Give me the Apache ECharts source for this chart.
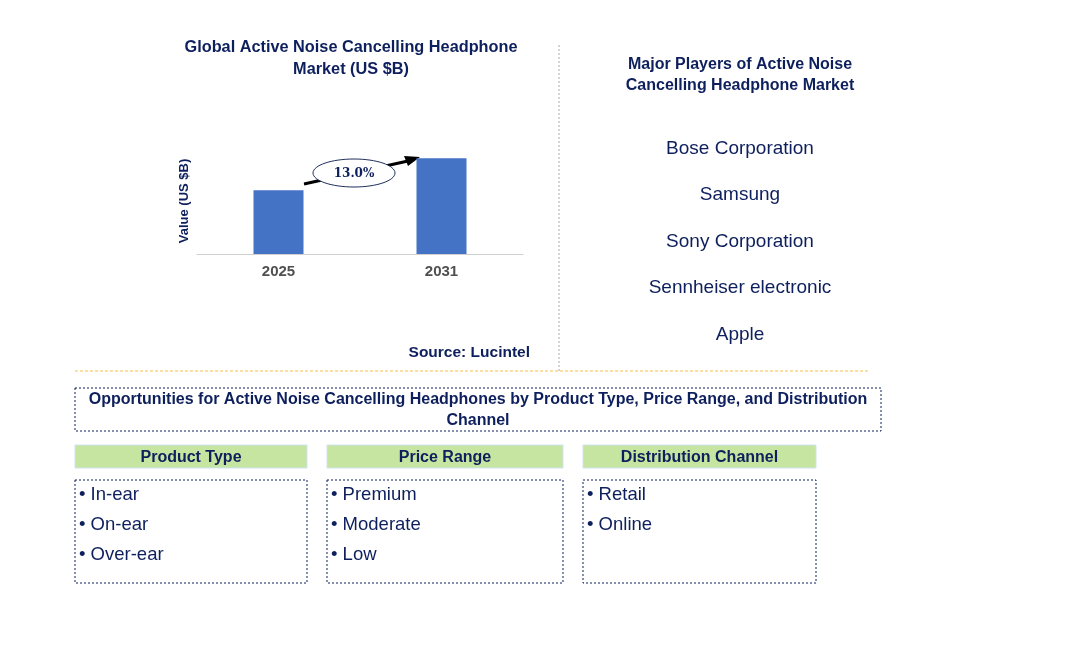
<!DOCTYPE html><html><head><meta charset="utf-8"><script src="https://cdn.jsdelivr.net/npm/echarts@6/dist/echarts.min.js"></script>
<style>body{margin:0}#c{width:1073px;height:664px}</style></head><body><div id="c"></div><script>
const categories=['2025','2031'];
const values=[1.0,1.5];
const cagr='13.0%';
const players=['Bose Corporation','Samsung','Sony Corporation','Sennheiser electronic','Apple'];
const segTitles=['Product Type','Price Range','Distribution Channel'];
const segItems=[['In-ear','On-ear','Over-ear'],['Premium','Moderate','Low'],['Retail','Online']];
const navy='#0d1f5c', F='Arial, "Liberation Sans", sans-serif';
const g=[];
function txt(x,y,t,o){g.push({type:'text',x,y:y+1.5,style:Object.assign({text:t,fill:navy,font:'16px '+F,align:'center',verticalAlign:'middle'},o||{})});}
txt(351,46,'Global Active Noise Cancelling Headphone',{font:'bold 16.3px '+F});
txt(351,68,'Market (US $B)',{font:'bold 16.3px '+F});
txt(740,63,'Major Players of Active Noise',{font:'bold 16px '+F});
txt(740,84,'Cancelling Headphone Market',{font:'bold 16px '+F});
players.forEach((p,i)=>txt(740,147+i*46.5,p,{font:'19px '+F}));
txt(530,351,'Source: Lucintel',{font:'bold 15.5px '+F,align:'right'});
g.push({type:'text',x:184,y:201,rotation:Math.PI/2,style:{text:'Value (US $B)',fill:navy,font:'bold 13px '+F,align:'center',verticalAlign:'middle'}});
g.push({type:'line',shape:{x1:559,y1:45,x2:559,y2:372},style:{stroke:'#aaa',lineDash:[2,2],lineWidth:1}});
g.push({type:'line',shape:{x1:75,y1:371,x2:870,y2:371},style:{stroke:'#f5c242',lineDash:[3,2],lineWidth:1}});
g.push({type:'line',shape:{x1:304,y1:184,x2:408,y2:161},style:{stroke:'#000',lineWidth:3}});
g.push({type:'polygon',shape:{points:[[420,157],[404,156],[408,166]]},style:{fill:'#000'}});
g.push({type:'ellipse',shape:{cx:354,cy:173,rx:41,ry:14},style:{fill:'#fff',stroke:'#1f2d5a',lineWidth:1}});
txt(354,172,cagr,{font:'bold 12px "DejaVu Serif", serif',fill:'#0d1f5c'});
g.push({type:'rect',shape:{x:75,y:388,width:806,height:43},style:{fill:'none',stroke:navy,lineDash:[2,2],lineWidth:1}});
txt(478,398,'Opportunities for Active Noise Cancelling Headphones by Product Type, Price Range, and Distribution',{font:'bold 16px '+F});
txt(478,419,'Channel',{font:'bold 16px '+F});
const bx=[[75,232],[327,236],[583,233]];
segTitles.forEach((t,i)=>{const [x,w]=bx[i];
 g.push({type:'rect',shape:{x,y:445,width:w,height:23},style:{fill:'#c5e5a0',stroke:'#cfe3f5',lineWidth:1}});
 txt(x+w/2,456,t,{font:'bold 16px '+F});
 g.push({type:'rect',shape:{x,y:480,width:w,height:103},style:{fill:'none',stroke:navy,lineDash:[2,2],lineWidth:1}});
 segItems[i].forEach((s,j)=>txt(x+4,493+j*30,'• '+s,{font:'18.5px '+F,align:'left'}));
});
echarts.init(document.getElementById('c')).setOption({animation:false,
grid:{left:197,width:326,top:120,bottom:410},
xAxis:{type:'category',data:categories,axisLine:{lineStyle:{color:'#d0d0d0'}},axisTick:{show:false},axisLabel:{color:'#505050',fontWeight:'bold',fontSize:15,fontFamily:F,margin:10}},
yAxis:{type:'value',min:0,max:2.1,show:false,splitLine:{show:false}},
series:[{type:'bar',data:values,barWidth:50,itemStyle:{color:'#4472c4'}}],
graphic:g});
</script></body></html>
